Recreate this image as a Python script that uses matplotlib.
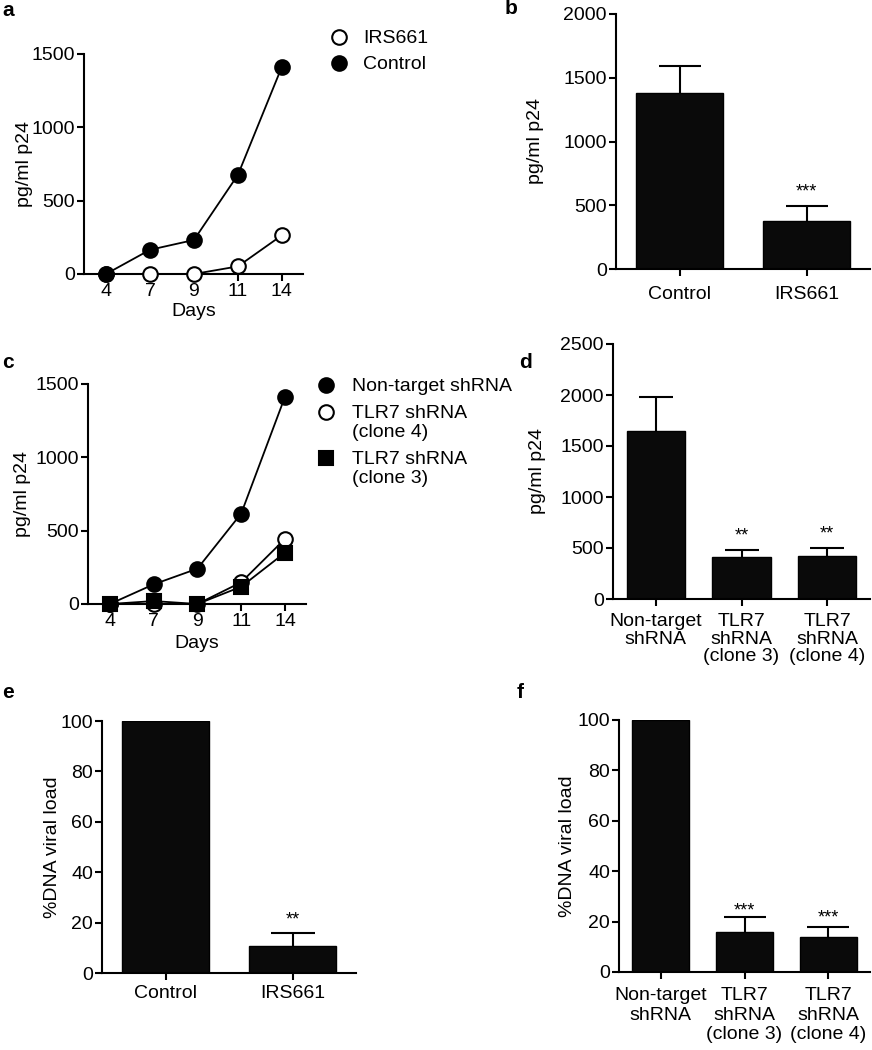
import matplotlib
matplotlib.use("Agg")
import matplotlib.pyplot as plt
from matplotlib.lines import Line2D
import numpy as np

plt.rcParams['font.family'] = ['Liberation Sans', 'DejaVu Sans']
plt.rcParams['font.size'] = 14
plt.rcParams['axes.linewidth'] = 1.5
plt.rcParams['xtick.major.width'] = 1.5
plt.rcParams['ytick.major.width'] = 1.5
plt.rcParams['xtick.major.size'] = 5
plt.rcParams['ytick.major.size'] = 5
plt.rcParams['xtick.major.pad'] = 1.5
plt.rcParams['ytick.major.pad'] = 1.5

# ---------------- data ----------------
days = ["4", "7", "9", "11", "14"]

# panel a
a_control = [0, 165, 232, 676, 1413]
a_irs661 = [0, 0, 0, 52, 264]
a_names = ["IRS661", "Control"]

# panel b
b_labels = ["Control", "IRS661"]
b_means = [1380, 378]
b_errs = [209, 113]
b_stars = ["", "***"]

# panel c
c_nontarget = [0, 134, 241, 617, 1413]
c_clone4 = [0, 0, 0, 148, 444]
c_clone3 = [0, 20, 0, 118, 350]
c_names = ["Non-target shRNA", "TLR7 shRNA\n(clone 4)", "TLR7 shRNA\n(clone 3)"]

# panel d
d_labels = ["Non-target\nshRNA", "TLR7\nshRNA\n(clone 3)", "TLR7\nshRNA\n(clone 4)"]
d_means = [1643, 410, 425]
d_errs = [334, 75, 77]
d_stars = ["", "**", "**"]

# panel e
e_labels = ["Control", "IRS661"]
e_means = [100, 10.7]
e_errs = [0, 5.3]
e_stars = ["", "**"]

# panel f
f_labels = ["Non-target\nshRNA", "TLR7\nshRNA\n(clone 3)", "TLR7\nshRNA\n(clone 4)"]
f_means = [100, 16.0, 13.9]
f_errs = [0, 5.7, 4.1]
f_stars = ["", "***", "***"]

W, H = 872, 1050
fig = plt.figure(figsize=(W / 100, H / 100), dpi=100)


def add_axes(left, right, bottom, top):
    ax = fig.add_axes([left / W, 1 - bottom / H, (right - left) / W, (bottom - top) / H])
    ax._px = (left, right)
    return ax


def style(ax):
    ax.spines['top'].set_visible(False)
    ax.spines['right'].set_visible(False)
    ax.tick_params(direction='out')


def place_ylabel(ax, text, right_px):
    ax.set_ylabel(text)
    l, r = ax._px
    ax.yaxis.set_label_coords((right_px - l) / (r - l), 0.5)


def line_panel(ax, series, ymax, ylabel_px, xlabelpad):
    style(ax)
    x = np.arange(len(days))
    for vals, mk, fc, ms, z in series:
        ax.plot(x, vals, color='black', lw=1.3, marker=mk, ms=ms, mfc=fc, mec='black',
                mew=1.5, clip_on=False, zorder=z)
    ax.set_xlim(-0.5, 4.48)
    ax.set_ylim(0, ymax)
    ax.set_yticks(np.arange(0, ymax + 1, 500))
    ax.set_xticks(x)
    ax.set_xticklabels(days)
    ax.set_xlabel("Days", labelpad=xlabelpad)
    place_ylabel(ax, "pg/ml p24", ylabel_px)


def manual_legend(entries, mk_x, txt_x):
    # entries: (marker, facecolor, ms, label, y_px)
    for mk, fc, ms, lab, y in entries:
        fig.add_artist(Line2D([mk_x / W], [1 - y / H], marker=mk, ms=ms, mfc=fc, mec='black',
                              mew=1.5, ls='none', transform=fig.transFigure))
        fig.text(txt_x / W, 1 - (y - 7) / H, lab, ha='left', va='top', linespacing=1.15)


def bar_panel(ax, labels, means, errs, stars, ymax, ystep, ylabel, ylabel_px, star_offs,
              capsize, xpad, lsp):
    style(ax)
    x = np.arange(len(labels))
    ax.bar(x, means, width=0.68, color='#0a0a0a', edgecolor='black', zorder=2)
    for xi, m, e, s, so in zip(x, means, errs, stars, star_offs):
        if e > 0:
            ax.errorbar([xi], [m], yerr=[e], fmt='none', ecolor='black',
                        elinewidth=1.5, capsize=capsize, capthick=1.5, zorder=1)
        if s:
            ax.annotate(s, (xi, m + e), xytext=(0, so), textcoords='offset points',
                        ha='center', va='baseline', fontsize=13)
    ax.set_xlim(-0.5, len(labels) - 0.5)
    ax.set_ylim(0, ymax)
    ax.set_yticks(np.arange(0, ymax + 1e-9, ystep))
    ax.set_xticks(x)
    ax.set_xticklabels(labels, linespacing=lsp)
    ax.tick_params(axis='x', pad=xpad)
    place_ylabel(ax, ylabel, ylabel_px)


# a
ax_a = add_axes(84, 303, 274, 54)
line_panel(ax_a, [(a_irs661, 'o', 'white', 10.5, 3),
                  (a_control, 'o', 'black', 10.5, 4)], 1500, 33, 2)
manual_legend([('o', 'white', 10.5, a_names[0], 37),
               ('o', 'black', 10.5, a_names[1], 63)], 339, 363)

# b
ax_b = add_axes(616, 870, 269, 14)
bar_panel(ax_b, b_labels, b_means, b_errs, b_stars, 2000, 500, "pg/ml p24", 544,
          [0, 7], 15, 7.5, 1.0)

# c
ax_c = add_axes(88, 306, 604, 384)
line_panel(ax_c, [(c_clone4, 'o', 'white', 10.5, 3),
                  (c_clone3, 's', 'black', 9.5, 4),
                  (c_nontarget, 'o', 'black', 10.5, 5)], 1500, 31, 3.5)
manual_legend([('o', 'black', 10.5, c_names[0], 385),
               ('o', 'white', 10.5, c_names[1], 412),
               ('s', 'black', 9.5, c_names[2], 458)], 326, 352)

# d
ax_d = add_axes(613, 870, 599, 344)
bar_panel(ax_d, d_labels, d_means, d_errs, d_stars, 2500, 500, "pg/ml p24", 546,
          [0, 6.5, 6.5], 12, 5, 1.05)

# e
ax_e = add_axes(102, 356, 973, 721)
bar_panel(ax_e, e_labels, e_means, e_errs, e_stars, 100, 20, "%DNA viral load", 61,
          [0, 6], 16, 3.5, 1.0)

# f
ax_f = add_axes(619, 870, 972, 720)
bar_panel(ax_f, f_labels, f_means, f_errs, f_stars, 100, 20, "%DNA viral load", 576,
          [0, 1.5, 3], 15, 6, 1.2)

# panel letters
for txt, px, py in [("a", 8, 10), ("b", 511, 8), ("c", 8, 362), ("d", 525, 362),
                    ("e", 8, 692), ("f", 520, 692)]:
    fig.text(px / W, 1 - py / H, txt, fontsize=15, fontweight='bold', ha='center', va='center')

fig.savefig("out.png", dpi=100)
